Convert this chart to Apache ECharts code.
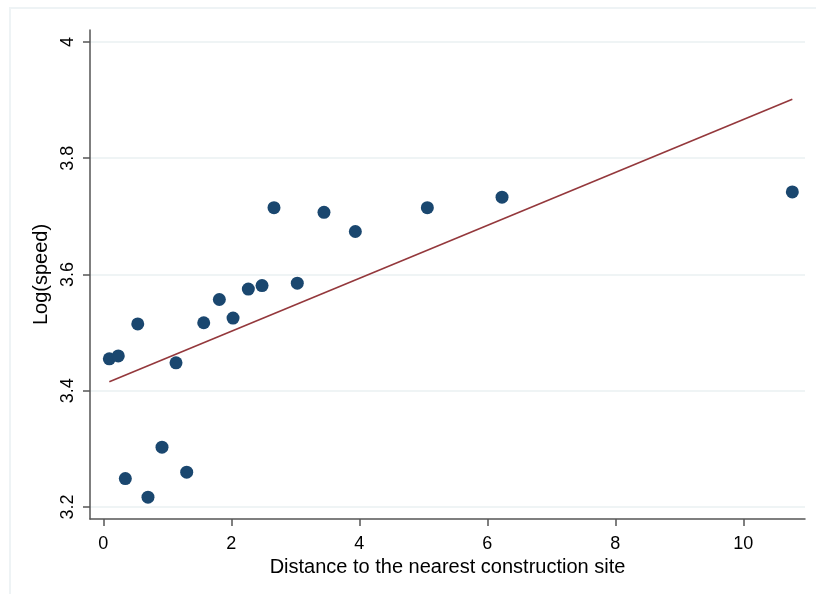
<!DOCTYPE html>
<html>
<head>
<meta charset="utf-8">
<script src="https://cdn.jsdelivr.net/npm/echarts@6/dist/echarts.min.js"></script>
<style>html,body{margin:0;padding:0;background:#fff}#c{width:816px;height:594px}</style>
</head>
<body>
<div id="c"></div>
<script>
const distX = [0.094,0.234,0.344,0.538,0.698,0.917,1.136,1.303,1.569,1.813,2.027,2.266,2.480,2.667,3.031,3.448,3.938,5.063,6.230,10.766];
const logSpeed = [3.455,3.460,3.249,3.515,3.217,3.303,3.448,3.260,3.517,3.557,3.525,3.575,3.581,3.715,3.585,3.707,3.674,3.715,3.733,3.742];
const fitX = [0.094, 10.766];
const fitY = [3.4155, 3.9014];
const xTicks = [0,2,4,6,8,10];
const yTicks = [3.2,3.4,3.6,3.8,4];
const xTitle = 'Distance to the nearest construction site';
const yTitle = 'Log(speed)';

const chart = echarts.init(document.getElementById('c'), null, {renderer:'canvas'});
const font = 'Liberation Sans, Arial, sans-serif';
chart.setOption({
  animation:false,
  backgroundColor:'#fff',
  graphic:[{type:'polyline', shape:{points:[[10,594],[10,8],[816,8]]}, style:{stroke:'#eef3f5', lineWidth:2, fill:null}, silent:true}],
  grid:{left:90, top:30, right:11, bottom:75},
  xAxis:{type:'value', min:-0.208, max:10.964,
    name:xTitle, nameLocation:'middle', nameGap:37,
    nameTextStyle:{fontFamily:font, fontSize:20, color:'#000'},
    axisLine:{onZero:false, lineStyle:{color:'#555', width:1.5}},
    axisTick:{customValues:xTicks, length:7, lineStyle:{color:'#555', width:1.5}},
    axisLabel:{customValues:xTicks, fontFamily:font, fontSize:18, color:'#000', margin:16},
    splitLine:{show:false}},
  yAxis:{type:'value', min:3.1794, max:4.0206,
    name:yTitle, nameLocation:'middle', nameGap:32, nameRotate:90,
    nameTextStyle:{fontFamily:font, fontSize:20, color:'#000'},
    axisLine:{show:true, onZero:false, lineStyle:{color:'#555', width:1.5}},
    axisTick:{show:true, customValues:yTicks, length:7, lineStyle:{color:'#555', width:1.5}},
    axisLabel:{customValues:yTicks, rotate:90, fontFamily:font, fontSize:18, color:'#000', margin:13,
      formatter: v => String(Math.round(v*10)/10)},
    splitLine:{show:true, lineStyle:{color:'#eaf0f2', width:1.5}}},
  series:[
    {type:'scatter', data:distX.map((x,i)=>[x,logSpeed[i]]), symbolSize:13,
     itemStyle:{color:'#1a476f', opacity:1}, z:3},
    {type:'line', data:fitX.map((x,i)=>[x,fitY[i]]), symbol:'none',
     lineStyle:{color:'#94383c', width:1.6}, z:2}
  ]
});
</script>
</body>
</html>
